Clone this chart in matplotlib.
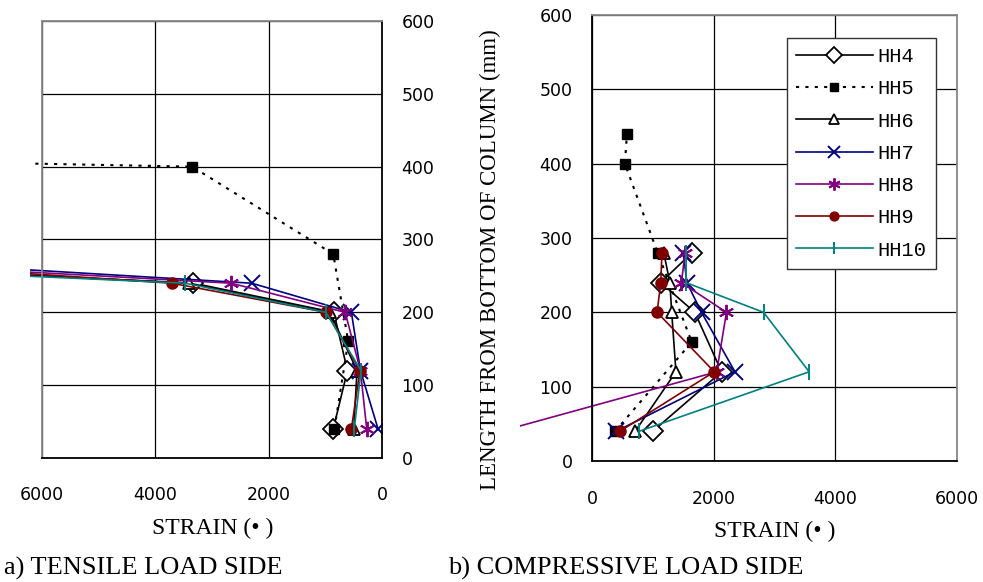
import matplotlib
matplotlib.use("Agg")
import matplotlib.pyplot as plt
from matplotlib.transforms import Bbox, TransformedBbox
from matplotlib.lines import Line2D

# ---------------- data ----------------
series_names = ["HH4", "HH5", "HH6", "HH7", "HH8", "HH9", "HH10"]
heights = [40, 120, 200, 240, 280]          # mm, all series except HH5
heights_hh5 = [40, 160, 280, 400, 440]      # mm, HH5

# a) tensile load side (strain)
tens_hh4 = [860, 610, 850, 3330, 14000]
tens_hh5 = [840, 596, 860, 3350, 30000]
tens_hh6 = [500, 440, 920, 3400, 14000]
tens_hh7 = [70, 380, 540, 2300, 10900]
tens_hh8 = [270, 380, 650, 2660, 12000]
tens_hh9 = [540, 390, 980, 3710, 11400]
tens_hh10 = [490, 370, 990, 3470, 15000]

# b) compressive load side (strain)
comp_hh4 = [1000, 2130, 1690, 1130, 1640]
comp_hh5 = [380, 1640, 1080, 540, 575]
comp_hh6 = [710, 1380, 1310, 1280, 1180]
comp_hh7 = [400, 2350, 1800, 1560, 1500]
comp_hh8 = [-1500, 2050, 2210, 1470, 1530]
comp_hh9 = [460, 2010, 1070, 1130, 1150]
comp_hh10 = [775, 3570, 2820, 1545, 1550]

x_ticks = [0, 2000, 4000, 6000]
y_ticks = [0, 100, 200, 300, 400, 500, 600]

# ---------------- styles ----------------
styles = {
    "HH4": dict(color="black", ls="-", marker="D", ms=10, mfc="white", mec="black", mew=1.3),
    "HH5": dict(color="black", ls=(0, (1.5, 3)), marker="s", ms=7.5, mfc="black", mec="black", mew=1.0),
    "HH6": dict(color="black", ls="-", marker="^", ms=9, mfc="white", mec="black", mew=1.3),
    "HH7": dict(color="#000080", ls="-", marker="x", ms=11, mfc="none", mec="#000080", mew=1.4),
    "HH8": dict(color="#800080", ls="-", marker=(6, 2, 0), ms=11, mfc="none", mec="#800080", mew=1.4),
    "HH9": dict(color="#800000", ls="-", marker="o", ms=8, mfc="#800000", mec="#800000", mew=1.0),
    "HH10": dict(color="#008080", ls="-", marker="|", ms=11, mfc="none", mec="#008080", mew=1.4),
}

W, H = 983, 582
fig = plt.figure(figsize=(W / 100, H / 100), dpi=100)

def fx(px):
    return px / W

def fy(py):
    return 1 - py / H

serif = ["Liberation Serif", "DejaVu Serif"]
sans = ["DejaVu Sans"]

# axes rectangles (pixels)
axL = fig.add_axes([fx(42), fy(458), fx(382) - fx(42), fy(21) - fy(458)])
axR = fig.add_axes([fx(592), fy(461), fx(957) - fx(592), fy(15) - fy(461)])

for ax in (axL, axR):
    ax.set_ylim(0, 600)
    ax.set_yticks(y_ticks)
    ax.set_xticks(x_ticks)
    ax.grid(True, color="black", lw=0.9)
    ax.set_axisbelow(True)
    ax.tick_params(length=0, labelsize=12.5)
    for lab in ax.get_xticklabels() + ax.get_yticklabels():
        lab.set_family(sans)

axL.set_xlim(6000, 0)
axR.set_xlim(0, 6000)

# left axes: y labels on right
axL.yaxis.tick_right()
axL.tick_params(axis="y", pad=14)
axL.tick_params(axis="x", pad=20)
for lab in axL.get_yticklabels():
    lab.set_horizontalalignment("left")
axL.spines["top"].set_color("#888888")
axL.spines["left"].set_color("#888888")
axL.spines["right"].set_color("black")
axL.spines["bottom"].set_color("black")
for s in axL.spines.values():
    s.set_linewidth(1.3)

axR.tick_params(axis="y", pad=14)
axR.tick_params(axis="x", pad=21)
axR.spines["top"].set_color("#888888")
axR.spines["right"].set_color("#888888")
axR.spines["left"].set_color("black")
axR.spines["bottom"].set_color("black")
for s in axR.spines.values():
    s.set_linewidth(1.3)

tens = [tens_hh4, tens_hh5, tens_hh6, tens_hh7, tens_hh8, tens_hh9, tens_hh10]
comp = [comp_hh4, comp_hh5, comp_hh6, comp_hh7, comp_hh8, comp_hh9, comp_hh10]

clipL = TransformedBbox(Bbox([[fx(30), fy(458)], [fx(382), fy(21)]]), fig.transFigure)
clipR = TransformedBbox(Bbox([[fx(520), fy(461)], [fx(957), fy(15)]]), fig.transFigure)

for ax, data, clip in ((axL, tens, clipL), (axR, comp, clipR)):
    for name, vals in zip(series_names, data):
        hs = heights_hh5 if name == "HH5" else heights
        st = styles[name]
        lw = 1.5 if name == "HH5" else 1.2
        ln, = ax.plot(vals, hs, color=st["color"], linestyle=st["ls"], lw=lw,
                      marker=st["marker"], markersize=st["ms"], markerfacecolor=st["mfc"],
                      markeredgecolor=st["mec"], markeredgewidth=st["mew"], clip_on=True)
        ln.set_clip_box(clip)

# legend
handles = []
for name in series_names:
    st = styles[name]
    lw = 1.5 if name == "HH5" else 1.2
    handles.append(Line2D([], [], color=st["color"], linestyle=st["ls"], lw=lw,
                          marker=st["marker"], markersize=st["ms"] * 0.8,
                          markerfacecolor=st["mfc"], markeredgecolor=st["mec"],
                          markeredgewidth=st["mew"]))
leg = axR.legend(handles, series_names, loc="upper left",
                 bbox_to_anchor=((787 - 592) / (957 - 592), (461 - 38) / (461 - 15)),
                 prop={"family": ["Liberation Mono", "DejaVu Sans Mono"], "size": 14.7},
                 frameon=True, fancybox=False, edgecolor="#333333", framealpha=1,
                 handlelength=3.75, handletextpad=0.25, labelspacing=0.65,
                 borderpad=0.44, borderaxespad=0)
leg.get_frame().set_linewidth(1.0)

# axis labels and captions
fig.text(fx(213), fy(528), "STRAIN (• )", family=serif, fontsize=17, ha="center", va="center")
fig.text(fx(775), fy(531), "STRAIN (• )", family=serif, fontsize=17, ha="center", va="center")
fig.text(fx(490), fy(260), "LENGTH FROM BOTTOM OF COLUMN (mm)", family=serif, fontsize=16.5,
         rotation=90, ha="center", va="center")
fig.text(fx(4), fy(568), "a) TENSILE LOAD SIDE", family=serif, fontsize=19, ha="left", va="center")
fig.text(fx(448), fy(568), "b) COMPRESSIVE LOAD SIDE", family=serif, fontsize=19, ha="left", va="center")

fig.savefig("out.png", dpi=100)
